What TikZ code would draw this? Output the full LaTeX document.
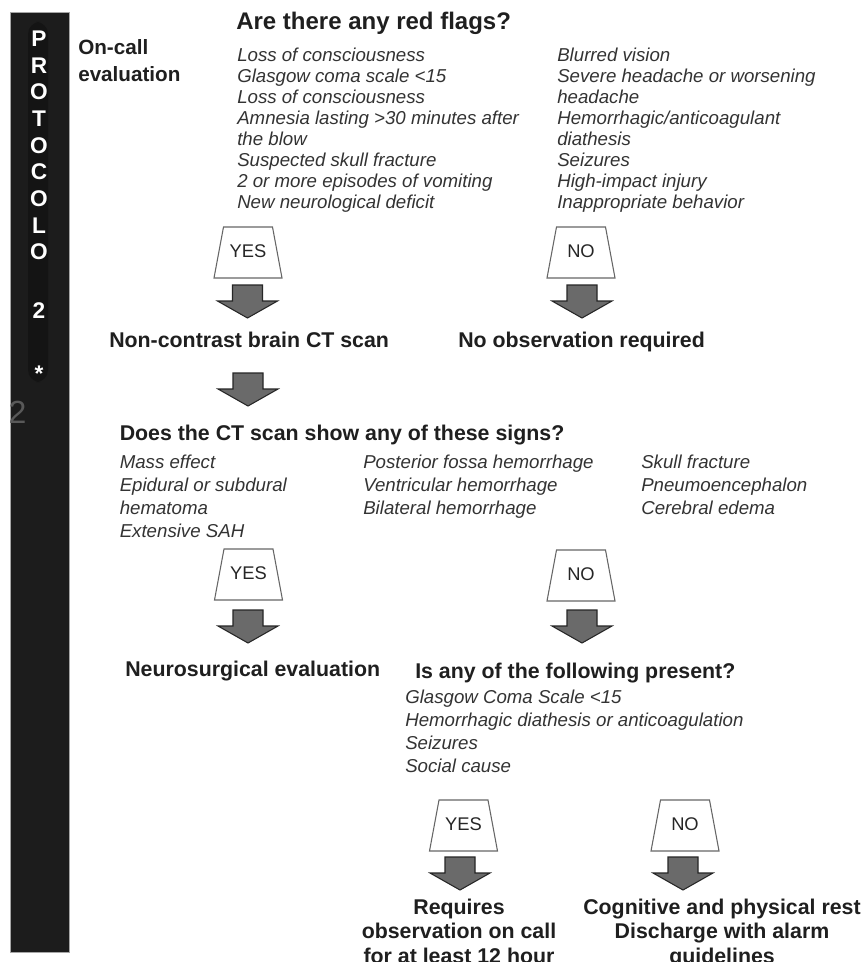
\documentclass[tikz,border=0pt]{standalone}
\usepackage{fontspec}
\setmainfont{Liberation Sans}
\definecolor{sidebar}{HTML}{1C1C1C}
\definecolor{stripe}{HTML}{141414}
\definecolor{arrowgray}{HTML}{6A6A6A}
\begin{document}
\begin{tikzpicture}[x=0.75pt,y=-0.75pt,
  side/.style={text=white, font=\bfseries\fontsize{17}{17}\selectfont, anchor=base, inner sep=0},
  item/.style={anchor=base west, inner sep=0, text=black!80, font=\itshape\fontsize{14}{14}\selectfont},
  head/.style={anchor=base west, inner sep=0, text=black!88, font=\bfseries\fontsize{16}{16}\selectfont},
  headc/.style={head, anchor=base},
  title/.style={head, font=\bfseries\fontsize{18}{18}\selectfont},
  oncall/.style={head, font=\bfseries\fontsize{15.5}{15.5}\selectfont},
  ynline/.style={draw=black!60, fill=white, line width=0.8pt, line join=miter},
  ynlabel/.style={inner sep=0, text=black!85, font=\fontsize{13.75}{13.75}\selectfont},
  blockarrow/.style={draw=black!85, fill=arrowgray, line width=0.8pt, line join=miter}
]
\path[use as bounding box] (0,0) rectangle (865,962);
\clip (0,0) rectangle (865,962);

% sidebar
\fill[white] (0,0) rectangle (865,962);
\draw[fill=sidebar, draw=black!35, line width=0.5pt] (10,12) rectangle (69,952);
\fill[stripe, rounded corners=9pt] (28,22) rectangle (48,382);
\foreach \l/\y [count=\i] in {P/46.4, R/73.1, O/99.8, T/126.5, O/153.2, C/179.9, O/206.6, L/233.3, O/260, 2/318, */381}
  \node[side] (s\i) at (39,\y) {\l};
\node[inner sep=0, text=black!65, font=\fontsize{24}{24}\selectfont, anchor=base] (ghost) at (17.5,423.5) {2};

% section 1
\node[oncall] (oc1) at (78,55) {On-call};
\node[oncall] (oc2) at (78,82) {evaluation};
\node[title] (t1) at (236,30) {Are there any red flags?};
\foreach \t [count=\i from 0] in {Loss of consciousness, Glasgow coma scale <15, Loss of consciousness, Amnesia lasting >30 minutes after, the blow, Suspected skull fracture, 2 or more episodes of vomiting, New neurological deficit}
  \node[item] (ra\i) at (237,62+20.86*\i) {\t};
\foreach \t [count=\i from 0] in {Blurred vision, Severe headache or worsening, headache, Hemorrhagic/anticoagulant, diathesis, Seizures, High-impact injury, Inappropriate behavior}
  \node[item] (rb\i) at (557,62+20.86*\i) {\t};

\newcommand\ynbox[4]{%
  \draw[ynline] (#2-24.5,#3) -- (#2+24.5,#3) -- (#2+34,#3+51) -- (#2-34,#3+51) -- cycle;
  \node[ynlabel] (#1) at (#2,#3+24) {#4};}
\newcommand\dnarrow[3]{%
  \draw[blockarrow] (#2-15,#3) -- (#2+15,#3) -- (#2+15,#3+16) -- (#2+30,#3+16) -- (#2,#3+33)
     -- (#2-30,#3+16) -- (#2-15,#3+16) -- cycle;
  \coordinate (#1) at (#2,#3+33);}

\ynbox{yes1}{248}{227}{YES}
\ynbox{no1}{581}{227}{NO}
\dnarrow{a1}{247.5}{285}
\dnarrow{a2}{582}{285}
\node[head] (ct) at (109,347) {Non-contrast brain CT scan};
\node[head] (noobs) at (458,347) {No observation required};

% section 2
\dnarrow{a3}{248}{373}
\node[head] (t2) at (119.5,440) {Does the CT scan show any of these signs?};
\foreach \t [count=\i from 0] in {Mass effect, Epidural or subdural, hematoma, Extensive SAH}
  \node[item] (ca\i) at (119.5,468+23.3*\i) {\t};
\foreach \t [count=\i from 0] in {Posterior fossa hemorrhage, Ventricular hemorrhage, Bilateral hemorrhage}
  \node[item] (cb\i) at (363,468+23.3*\i) {\t};
\foreach \t [count=\i from 0] in {Skull fracture, Pneumoencephalon, Cerebral edema}
  \node[item] (cc\i) at (641,468+23.3*\i) {\t};

\ynbox{yes2}{248.5}{549}{YES}
\ynbox{no2}{581}{550}{NO}
\dnarrow{a4}{248}{610}
\dnarrow{a5}{582}{610}
\node[head] (neuro) at (125,676) {Neurosurgical evaluation};

% section 3
\node[head] (t3) at (415,678) {Is any of the following present?};
\foreach \t [count=\i from 0] in {Glasgow Coma Scale <15, Hemorrhagic diathesis or anticoagulation, Seizures, Social cause}
  \node[item] (pa\i) at (405,703+23.3*\i) {\t};

\ynbox{yes3}{463.5}{800}{YES}
\ynbox{no3}{685}{800}{NO}
\dnarrow{a6}{460}{857}
\dnarrow{a7}{683}{857}

\node[headc] (r1) at (459,914) {Requires};
\node[headc] (r2) at (459,938) {observation on call};
\node[headc] (r3) at (459,963) {for at least 12 hour};
\node[headc] (d1) at (722,914) {Cognitive and physical rest};
\node[headc] (d2) at (722,938) {Discharge with alarm};
\node[headc] (d3) at (722,963) {guidelines};
\end{tikzpicture}
\end{document}
